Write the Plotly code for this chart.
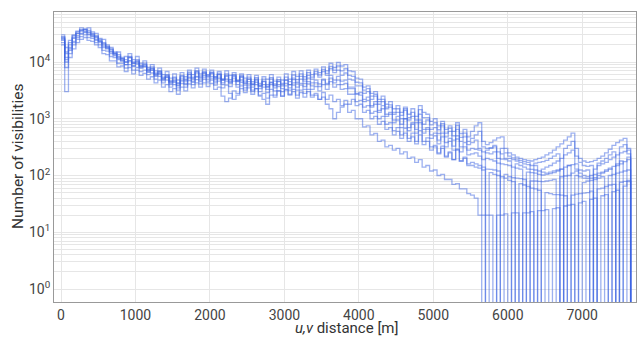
import plotly.graph_objects as go

BIN_EDGE_START = 0
BIN_WIDTH = 50

series_a = [30000, 15000, 22000, 30000, 35000, 40000, 38000, 40000, 34000, 32000,
            26000, 25000, 19000, 18000, 14000, 15000, 11500, 12500, 14000, 11000,
            12500, 9500, 10500, 8000, 9000, 7000, 7800, 6000, 6800, 5200,
            6200, 4800, 6500, 5500, 7200, 6000, 7800, 6200, 7500, 6000,
            7200, 5500, 6800, 5000, 7000, 5800, 6500, 4800, 6200, 5200,
            6000, 4500, 5800, 4200, 5500, 5000, 6000, 4600, 5400, 4800,
            6200, 5000, 6800, 5600, 7000, 5500, 7200, 6000, 7500, 6500,
            8200, 7000, 9500, 8000, 9800, 8500, 9000, 7000, 6800, 5200,
            5000, 3600, 3800, 2800, 3000, 2200, 2500, 1800, 2000, 1500,
            1700, 1300, 1600, 1200, 1500, 1100, 1700, 1300, 1200, 900,
            1000, 750, 900, 650, 750, 600, 850, 550, 650, 480,
            600, 750, 850, 400, 350, 380, 420, 460, 480, 300,
            250, 230, 210, 200, 190, 185, 180, 190, 200, 210,
            230, 250, 280, 320, 360, 420, 480, 560, 300, 200,
            180, 170, 175, 185, 200, 220, 250, 290, 340, 380,
            420, 450, 300]

series_b = [26000, 3000, 18000, 26000, 32000, 35000, 37000, 33000, 31000, 27000,
            25000, 20000, 20000, 15500, 15000, 12000, 12000, 10000, 12000, 9500,
            10500, 8800, 9000, 7200, 7800, 6200, 6800, 5200, 5800, 4500,
            5200, 4200, 5600, 4800, 6200, 5200, 6800, 5400, 6400, 5600,
            6400, 5200, 6000, 4800, 5800, 4400, 5600, 4600, 5500, 4200,
            5000, 4000, 4800, 3700, 4600, 3600, 4400, 3800, 4600, 4000,
            4800, 4000, 5200, 4400, 5600, 4600, 5800, 5000, 6200, 5400,
            6800, 5800, 7600, 6500, 7200, 5800, 6400, 5000, 4800, 3800,
            3800, 2800, 3000, 2200, 2500, 1800, 2000, 1500, 1600, 1200,
            1300, 1000, 1400, 950, 1100, 850, 1200, 800, 950, 650,
            700, 550, 750, 480, 600, 420, 650, 400, 480, 350,
            380, 420, 300, 0, 280, 300, 320, 260, 240, 200,
            200, 190, 180, 170, 160, 155, 150, 150, 0, 130,
            140, 150, 165, 180, 200, 230, 250, 280, 130, 125,
            120, 125, 0, 130, 150, 160, 170, 190, 210, 230,
            250, 265, 280]

series_c = [24000, 12000, 16000, 22000, 27000, 31000, 33000, 30000, 28000, 24000,
            22000, 18000, 17000, 14000, 13500, 11000, 10500, 9000, 10500, 8500,
            9200, 7800, 8200, 6800, 7200, 5800, 6200, 5000, 5400, 4200,
            4600, 3800, 4800, 4200, 5400, 4600, 5600, 4800, 5800, 5000,
            5600, 4600, 5400, 4300, 5000, 4200, 5200, 4000, 4800, 3900,
            4500, 3600, 4400, 3400, 4000, 3300, 4300, 3500, 4000, 3400,
            4200, 3500, 4300, 3600, 4200, 3700, 4500, 3800, 4300, 3700,
            4800, 4000, 5200, 4300, 4800, 4000, 4200, 3400, 3400, 2700,
            2900, 2200, 2400, 1700, 2000, 1400, 1700, 1200, 1300, 950,
            1100, 800, 1000, 700, 850, 650, 950, 650, 700, 520,
            560, 420, 560, 380, 450, 330, 500, 320, 380, 280,
            300, 290, 280, 260, 250, 240, 260, 200, 195, 190,
            180, 0, 160, 150, 140, 130, 128, 125, 120, 115,
            110, 115, 120, 125, 130, 0, 150, 155, 160, 110,
            100, 95, 100, 105, 110, 115, 125, 135, 0, 150,
            160, 175, 190]

series_d = [22000, 10000, 14000, 20000, 25000, 28000, 30000, 27000, 26000, 22000,
            20000, 16000, 15500, 12500, 12000, 9500, 9500, 7800, 9000, 7200,
            8000, 6800, 7200, 6000, 6400, 5000, 5600, 4300, 4800, 3600,
            4000, 3200, 4200, 3600, 4700, 4000, 4900, 4100, 5000, 4300,
            4800, 3900, 4600, 3500, 3900, 2800, 2200, 2600, 3400, 2900,
            3500, 2700, 3400, 2500, 2200, 1800, 2600, 2400, 3100, 2500,
            3200, 2700, 3300, 2600, 3200, 2800, 3300, 2600, 2800, 2200,
            2400, 1800, 1500, 1000, 1300, 1600, 2100, 1800, 2200, 1700,
            1800, 1300, 1400, 1000, 1100, 800, 900, 650, 700, 520,
            600, 450, 560, 400, 480, 360, 520, 350, 400, 280,
            320, 240, 300, 210, 250, 190, 280, 180, 200, 160,
            170, 160, 150, 140, 130, 128, 125, 120, 0, 105,
            95, 92, 90, 88, 85, 0, 80, 80, 79, 78,
            80, 82, 85, 0, 95, 98, 100, 110, 120, 0,
            75, 80, 82, 85, 90, 95, 0, 100, 105, 110,
            115, 120, 125]

series_e = [20000, 8000, 12000, 17000, 22000, 25000, 27000, 24000, 23000, 20000,
            18000, 14000, 13500, 10500, 10500, 8200, 8500, 6800, 8000, 6200,
            7200, 5800, 6300, 5000, 5500, 4300, 4800, 3600, 4000, 3000,
            3400, 2700, 3600, 3100, 4100, 3500, 4300, 3600, 4300, 3700,
            4200, 3300, 3600, 2500, 2000, 2300, 3100, 2800, 3800, 3200,
            3800, 3000, 3400, 2600, 2800, 2300, 3300, 2600, 3100, 2500,
            3300, 2600, 3000, 2300, 2900, 2400, 3000, 2400, 2600, 2200,
            2900, 2200, 2600, 2000, 2200, 1700, 1800, 1300, 1400, 1000,
            1000, 720, 750, 520, 550, 400, 420, 320, 340, 280,
            300, 240, 260, 200, 210, 170, 190, 140, 150, 120,
            125, 100, 105, 85, 85, 70, 72, 58, 58, 48,
            45, 40, 20, 20, 20, 20, 0, 20, 20, 21,
            0, 22, 22, 0, 22, 22, 23, 0, 24, 24,
            25, 0, 26, 27, 0, 29, 30, 31, 0, 33,
            35, 0, 38, 40, 0, 44, 46, 0, 52, 55,
            0, 65, 78]

series_f = [27000, 14000, 20000, 27000, 32000, 36000, 38000, 34000, 32000, 28000,
            24000, 21000, 18500, 16500, 14500, 12500, 11500, 10000, 12000, 9500,
            10200, 8400, 8800, 7200, 7600, 6000, 6600, 5000, 5600, 4400,
            4800, 3900, 5200, 4600, 6000, 5000, 6400, 5200, 6400, 5400,
            6200, 5000, 6000, 4800, 5600, 4600, 5800, 4500, 5400, 4300,
            5000, 4000, 5000, 3800, 4500, 3700, 5000, 3900, 4500, 3800,
            4800, 4000, 4900, 4100, 5000, 4200, 5200, 4300, 4800, 4100,
            5000, 4200, 5800, 4800, 5600, 4600, 4800, 3600, 3600, 2800,
            2600, 2000, 2100, 1600, 1800, 1300, 1500, 1100, 1200, 850,
            950, 700, 1000, 620, 800, 560, 850, 560, 650, 450,
            500, 360, 480, 320, 400, 280, 440, 260, 320, 230,
            240, 250, 220, 190, 200, 190, 180, 165, 160, 155,
            150, 140, 135, 130, 0, 115, 112, 110, 105, 102,
            105, 108, 112, 120, 130, 140, 150, 0, 100, 95,
            90, 88, 90, 92, 100, 110, 118, 128, 145, 160,
            180, 0, 210]

series_g = [25000, 11000, 17000, 23000, 29000, 32000, 34000, 31000, 29000, 25000,
            23000, 19000, 18000, 15000, 14000, 11500, 11000, 9000, 10500, 8500,
            9600, 8000, 8400, 6600, 7200, 5600, 6200, 4700, 5300, 4000,
            4400, 3500, 4600, 4000, 5200, 4400, 5400, 4500, 5400, 4600,
            5200, 4300, 5100, 4000, 4600, 3700, 4600, 3600, 4400, 3500,
            4100, 3200, 4000, 3000, 3600, 2900, 4000, 3100, 3700, 3000,
            3800, 3200, 3900, 3200, 3900, 3300, 4100, 3300, 3700, 3100,
            4000, 3300, 4500, 3600, 4000, 3300, 3400, 2700, 2700, 2000,
            2100, 1600, 1700, 1250, 1350, 1000, 1100, 800, 850, 620,
            700, 520, 680, 450, 560, 400, 620, 400, 460, 320,
            340, 250, 330, 220, 260, 190, 290, 180, 210, 150,
            150, 140, 135, 125, 0, 112, 105, 100, 95, 90,
            82, 78, 0, 72, 68, 64, 60, 58, 55, 0,
            50, 48, 46, 46, 45, 44, 0, 45, 47, 48,
            49, 50, 53, 0, 58, 60, 64, 68, 70, 0,
            76, 79, 82]

series_h = [28000, 18000, 24000, 29000, 34000, 37000, 35000, 36000, 30000, 29000,
            23000, 22000, 17500, 17000, 13000, 13500, 10500, 11000, 12500, 10000,
            11000, 8500, 9500, 7500, 8200, 6400, 7000, 5400, 6000, 4700,
            5400, 4300, 5800, 5000, 6600, 5400, 7000, 5700, 6800, 5800,
            6600, 5400, 6300, 5000, 6200, 4900, 6000, 4700, 5800, 4600,
            5400, 4200, 5300, 3900, 5000, 4000, 5300, 4100, 4900, 4200,
            5400, 4500, 5900, 4900, 6200, 5000, 6500, 5400, 6800, 5900,
            7400, 6300, 8400, 7200, 8500, 7000, 7600, 5800, 5600, 4400,
            4300, 3200, 3400, 2500, 2700, 2000, 2200, 1600, 1750, 1300,
            1500, 1150, 1500, 1050, 1300, 950, 1450, 1050, 1050, 780,
            850, 640, 820, 560, 680, 500, 760, 470, 560, 400,
            450, 520, 600, 320, 300, 310, 340, 0, 300, 250,
            220, 205, 195, 185, 175, 170, 0, 165, 170, 175,
            185, 200, 220, 240, 0, 300, 340, 400, 220, 170,
            150, 145, 150, 0, 165, 180, 200, 230, 260, 0,
            320, 350, 240]

all_series = [series_a, series_b, series_c, series_d, series_e, series_f, series_g, series_h]

y_tick_values = [m * 10 ** k for k in range(0, 5) for m in range(1, 10)]
y_tick_text = [("10<sup>%d</sup>" % k) if m == 1 else "" for k in range(0, 5) for m in range(1, 10)]
x_tick_values = [0, 1000, 2000, 3000, 4000, 5000, 6000, 7000]

FLOOR = 1e-3  # empty bins drawn below the visible range of the log axis

fig = go.Figure()
for s in all_series:
    n = len(s)
    xs = [BIN_EDGE_START + BIN_WIDTH * i for i in range(n + 1)]
    ys = [v if v > 0 else FLOOR for v in s] + [FLOOR]
    fig.add_trace(go.Scatter(
        x=xs, y=ys, mode="lines", line_shape="hv",
        line=dict(color="rgba(60,100,225,0.5)", width=1.3),
        showlegend=False, hoverinfo="skip"))

fig.update_layout(
    width=638, height=337,
    margin=dict(l=54, r=2, t=12, b=35),
    paper_bgcolor="white", plot_bgcolor="white",
    font=dict(family="Roboto", size=14, color="#333"),
    annotations=[
        dict(text="<i>u,v</i> distance [m]", xref="paper", yref="paper",
             x=0.5, y=0, xanchor="center", yanchor="top", yshift=-16, xshift=2,
             showarrow=False, borderpad=0, font=dict(size=15, color="#333")),
        dict(text="Number of visibilities", xref="paper", yref="paper",
             x=0, y=0.5, xanchor="center", yanchor="middle", xshift=-36, textangle=-90,
             showarrow=False, font=dict(size=15.5, color="#333")),
    ],
)
fig.update_xaxes(
    range=[-94, 7722], tickvals=x_tick_values,
    showgrid=True, gridcolor="#e6e6e6", gridwidth=1, zeroline=False,
    showline=True, linecolor="#999", linewidth=1, mirror=True,
    ticks="", tickfont=dict(size=14, color="#444"),
    automargin=False,
)
fig.update_yaxes(
    type="log", range=[-0.229, 4.881],
    tickvals=y_tick_values, ticktext=y_tick_text,
    showgrid=True, gridcolor="#e6e6e6", gridwidth=1, zeroline=False,
    showline=True, linecolor="#999", linewidth=1, mirror=True,
    ticks="", tickfont=dict(size=14, color="#444"),
    automargin=False,
)

fig.write_html("out.html", config={"displayModeBar": False},
               post_script="document.body.style.margin='0';")
